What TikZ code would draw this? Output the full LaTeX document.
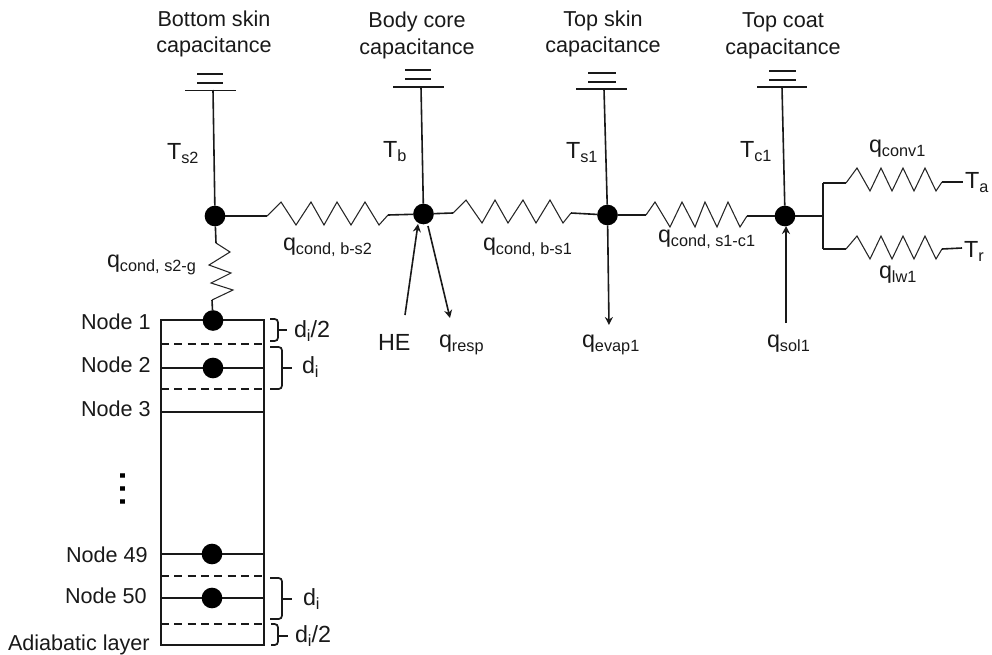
\documentclass[tikz,border=0pt]{standalone}
\usepackage{fontspec}
\setmainfont{Liberation Sans}
\usetikzlibrary{arrows.meta}
\newcommand\sbs[1]{\raisebox{-3.2pt}{\fontsize{12.2}{12.2}\selectfont #1}}
\newcommand\bigsym[1]{{\fontsize{17.5}{17.5}\selectfont #1}}
\tikzset{
  x=0.75pt,y=-0.75pt,
  lbl/.style={anchor=base west,inner sep=0pt,outer sep=0pt,font=\fontsize{16.2}{16.2}\selectfont,text=black!90},
  ttl/.style={anchor=base,inner sep=0pt,outer sep=0pt,font=\fontsize{16.2}{16.2}\selectfont,text=black!90},
  junction/.style={circle,fill=black,draw=none,minimum size=15.5pt,inner sep=0pt,outer sep=0pt},
  wire/.style={line width=1.2pt,black!90},
  zig/.style={line width=0.8pt,black!85,line join=miter},
  dashline/.style={line width=1.2pt,black!90,dash pattern=on 6pt off 4pt},
  arrowline/.style={line width=1.2pt,black!90,-{Stealth[length=6pt,width=6pt]},shorten >=0pt},
  bracestyle/.style={line width=1.3pt,black!90,rounded corners=2.5pt},
}
\begin{document}
\begin{tikzpicture}
\useasboundingbox (0,0) rectangle (992,654);

% column
\coordinate (cl1) at (161,320); \coordinate (cr1) at (264,320);
\coordinate (clb) at (161,645); \coordinate (crb) at (264,645);
\draw[wire] (cl1) -- (cr1) -- (crb) -- (clb) -- cycle;
\foreach \yy/\nm in {368/2,412/3,554/49,598/50}{
  \coordinate (ll\nm) at (161,\yy); \coordinate (lr\nm) at (264,\yy);
  \draw[wire] (ll\nm) -- (lr\nm);
}
\foreach \yy/\nm in {344/a,389/b,576/c,624/d}{
  \coordinate (dl\nm) at (161,\yy); \coordinate (dr\nm) at (266,\yy);
  \draw[dashline] (dl\nm) -- (dr\nm);
}

% capacitors
\coordinate (caps2) at (213,90);
\coordinate (capb) at (421,87);
\coordinate (caps1) at (604,89);
\coordinate (capc1) at (782,87);
\draw[wire] (185,90.3) -- (236,90.3) (197,74) -- (223,74) (197,83) -- (223,83);
\draw[wire] (393,86.7) -- (444,86.7) (405,70) -- (431,70) (405,79) -- (431,79);
\draw[wire] (576,89) -- (627,89) (588,73) -- (616,73) (588,82) -- (616,82);
\draw[wire] (757,87) -- (807,87) (769,71) -- (796,71) (769,80) -- (796,80);

% junction nodes
\node[junction] (s2) at (215,216) {};
\node[junction] (core) at (423.5,214) {};
\node[junction] (s1) at (607.5,215) {};
\node[junction] (c1) at (785,216) {};
\node[junction] (n1) at (213,320.5) {};
\node[junction] (n2) at (213,368) {};
\node[junction] (n49) at (212,554) {};
\node[junction] (n50) at (212,598) {};

\draw[wire] (caps2) -- (s2);
\draw[wire] (capb) -- (core);
\draw[wire] (caps1) -- (s1);
\draw[wire] (capc1) -- (c1);

% resistors
\draw[wire] (s2) -- (267,216);
\draw[zig] (267,216) -- (281,202) -- (296,225) -- (311,202) -- (324,225) -- (337,202) -- (351,225) -- (365,202) -- (379,225) -- (388,215);
\draw[wire] (388,215) -- (core);

\draw[wire] (core) -- (453,213);
\draw[zig] (453,213) -- (466,200) -- (482,223) -- (495,200) -- (508,223) -- (523,200) -- (536,223) -- (550,200) -- (563,223) -- (571,213);
\draw[wire] (571,213) -- (s1);

\draw[wire] (s1) -- (646,215);
\draw[zig] (646,215) -- (655,202) -- (670,227) -- (682,202) -- (695,227) -- (705,202) -- (717,227) -- (728,202) -- (740,227) -- (747,216);
\draw[wire] (747,216) -- (c1);

\coordinate (br) at (823,216);
\coordinate (brt) at (823,183);
\coordinate (brb) at (823,249);
\coordinate (ta) at (963,182);
\coordinate (tr) at (962,248);
\draw[wire] (c1) -- (br);
\draw[wire] (brt) -- (brb);
\draw[wire] (brt) -- (846,183);
\draw[zig] (846,183) -- (857,168) -- (870,191) -- (881,168) -- (892,191) -- (903,168) -- (914,191) -- (925,168) -- (936,191) -- (942,182);
\draw[wire] (942,182) -- (ta);
\draw[wire] (brb) -- (846,249);
\draw[zig] (846,249) -- (857,236) -- (870,259) -- (881,236) -- (892,259) -- (903,236) -- (914,259) -- (925,236) -- (936,259) -- (942,249);
\draw[wire] (942,249) -- (tr);

\draw[wire] (s2) -- (216,243);
\draw[zig] (216,243) -- (230,252) -- (209,265) -- (231,273) -- (211,283) -- (233,290) -- (212,300);
\draw[wire] (212,300) -- (n1);

% arrows
\coordinate (heS) at (405,315);
\coordinate (respE) at (450,318);
\coordinate (evapE) at (609,325);
\coordinate (solS) at (786,323);
\draw[arrowline] (heS) -- (418,224);
\draw[arrowline] (428,226) -- (respE);
\draw[arrowline] (s1) -- (evapE);
\draw[arrowline] (solS) -- (786,226);

% braces
\draw[bracestyle] (270,319) -- (278,319) -- (278,341) -- (270,341);
\draw[wire] (278,330) -- (287,330);
\draw[bracestyle] (270,347) -- (282,347) -- (282,389) -- (270,389);
\draw[wire] (282,368) -- (292,368);
\draw[bracestyle] (270,578) -- (282,578) -- (282,619) -- (270,619);
\draw[wire] (282,599) -- (292,599);
\draw[bracestyle] (271,624) -- (278,624) -- (278,645) -- (271,645);
\draw[wire] (278,636) -- (288,636);

% titles
\node[ttl] (t1a) at (214,26) {Bottom skin};
\node[ttl] (t1b) at (214,52) {capacitance};
\node[ttl] (t2a) at (417,27) {Body core};
\node[ttl] (t2b) at (417,54) {capacitance};
\node[ttl] (t3a) at (603,26) {Top skin};
\node[ttl] (t3b) at (603,52) {capacitance};
\node[ttl] (t4a) at (783,27) {Top coat};
\node[ttl] (t4b) at (783,54) {capacitance};

% labels
\node[lbl] (lts2) at (167,159) {\bigsym{T}\sbs{s2}};
\node[lbl] (ltb) at (383,157) {\bigsym{T}\sbs{b}};
\node[lbl] (lts1) at (566,158) {\bigsym{T}\sbs{s1}};
\node[lbl] (ltc1) at (740,157) {\bigsym{T}\sbs{c1}};
\node[lbl] (lqa) at (283,250) {\bigsym{q}\sbs{cond, b-s2}};
\node[lbl] (lqb) at (483,250) {\bigsym{q}\sbs{cond, b-s1}};
\node[lbl] (lqc) at (658,242) {\bigsym{q}\sbs{cond, s1-c1}};
\node[lbl] (lqd) at (107,267) {\bigsym{q}\sbs{cond, s2-g}};
\node[lbl] (lhe) at (378,350) {\bigsym{HE}};
\node[lbl] (lqr) at (439,347) {\bigsym{q}\sbs{resp}};
\node[lbl] (lqe) at (582,347) {\bigsym{q}\sbs{evap1}};
\node[lbl] (lqs) at (767,347) {\bigsym{q}\sbs{sol1}};
\node[lbl] (lqcv) at (869,152) {\bigsym{q}\sbs{conv1}};
\node[lbl] (lqlw) at (879,278) {\bigsym{q}\sbs{lw1}};
\node[lbl] (lta) at (965,188) {\bigsym{T}\sbs{a}};
\node[lbl] (ltr) at (964,257) {\bigsym{T}\sbs{r}};

\node[lbl] (ln1) at (81,329) {Node 1};
\node[lbl] (ln2) at (81,372) {Node 2};
\node[lbl] (ln3) at (81,416) {Node 3};
\node[lbl] (ln49) at (66,562) {Node 49};
\node[lbl] (ln50) at (65,603) {Node 50};
\node[lbl] (lad) at (8,650) {Adiabatic layer};

\node[lbl] (ld1) at (294,337) {\bigsym{d}\sbs{i}\bigsym{/2}};
\node[lbl] (ld2) at (302,373) {\bigsym{d}\sbs{i}};
\node[lbl] (ld3) at (303,605) {\bigsym{d}\sbs{i}};
\node[lbl] (ld4) at (295,642) {\bigsym{d}\sbs{i}\bigsym{/2}};

\node[inner sep=0pt,rotate=-90,font=\fontsize{35}{35}\selectfont] (vd) at (125,488.5) {\raisebox{-0.35ex}{...}};
\end{tikzpicture}
\end{document}
